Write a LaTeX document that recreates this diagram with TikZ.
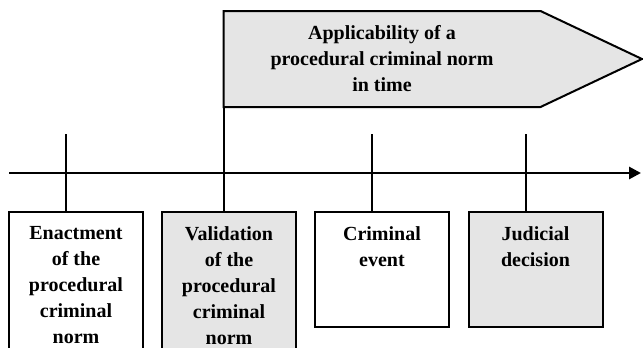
\documentclass[tikz,border=0pt]{standalone}
\usepackage{fontspec}
\setmainfont{Liberation Serif}
\usepackage{tikz}
\usetikzlibrary{arrows.meta,positioning}

\begin{document}
\begin{tikzpicture}[
  x=0.5pt,y=-0.5pt,
  evt/.style={rectangle,draw,line width=1pt,minimum width=67pt,
    minimum height=57.5pt,inner sep=0pt,anchor=north},
  evtL/.style={evt,minimum height=80pt},
  shd/.style={fill=gray!20},
  lbl/.style={align=center,inner sep=0pt,
    font=\fontsize{10}{13}\selectfont\bfseries},
  ax/.style={line width=1.4pt,-{Triangle[length=6pt,width=6pt]}},
  tk/.style={line width=1pt}
]
\useasboundingbox (0,0) rectangle (643,348);
\clip (0,0) rectangle (643,348);

% flag
\coordinate (fnw) at (223.5,11);
\coordinate (fne) at (540.5,11);
\coordinate (ftip) at (642,59);
\coordinate (fse) at (540.5,107);
\coordinate (fsw) at (223.5,107);
\draw[shd,line width=1pt] (fnw) -- (fne) -- (ftip) -- (fse) -- (fsw) -- cycle;
\node[lbl] (flag) at (382,58.5) {Applicability of a\\procedural criminal norm\\in time};

% time axis
\coordinate (ax0) at (9,173);
\coordinate (ax1) at (641,173);
\draw[ax] (ax0) -- (ax1);

% events
\node[evtL]     (b1) at (76,211) {};
\node[evtL,shd] (b2) at (229,211) {};
\node[evt]      (b3) at (382,211) {};
\node[evt,shd]  (b4) at (535.5,211) {};

\node[lbl,below=7.6pt of b1.north] (l1) {Enactment\\of the\\procedural\\criminal\\norm};
\node[lbl,below=7.6pt of b2.north] (l2) {Validation\\of the\\procedural\\criminal\\norm};
\node[lbl,below=7.6pt of b3.north] (l3) {Criminal\\event};
\node[lbl,below=7.6pt of b4.north] (l4) {Judicial\\decision};

% ticks
\coordinate (t1) at (66,134);
\coordinate (t3) at (372,134);
\coordinate (t4) at (526,134);
\draw[tk] (t1) -- (t1 |- b1.north);
\draw[tk] (fsw) -- (fsw |- b2.north);
\draw[tk] (t3) -- (t3 |- b3.north);
\draw[tk] (t4) -- (t4 |- b4.north);
\end{tikzpicture}
\end{document}
